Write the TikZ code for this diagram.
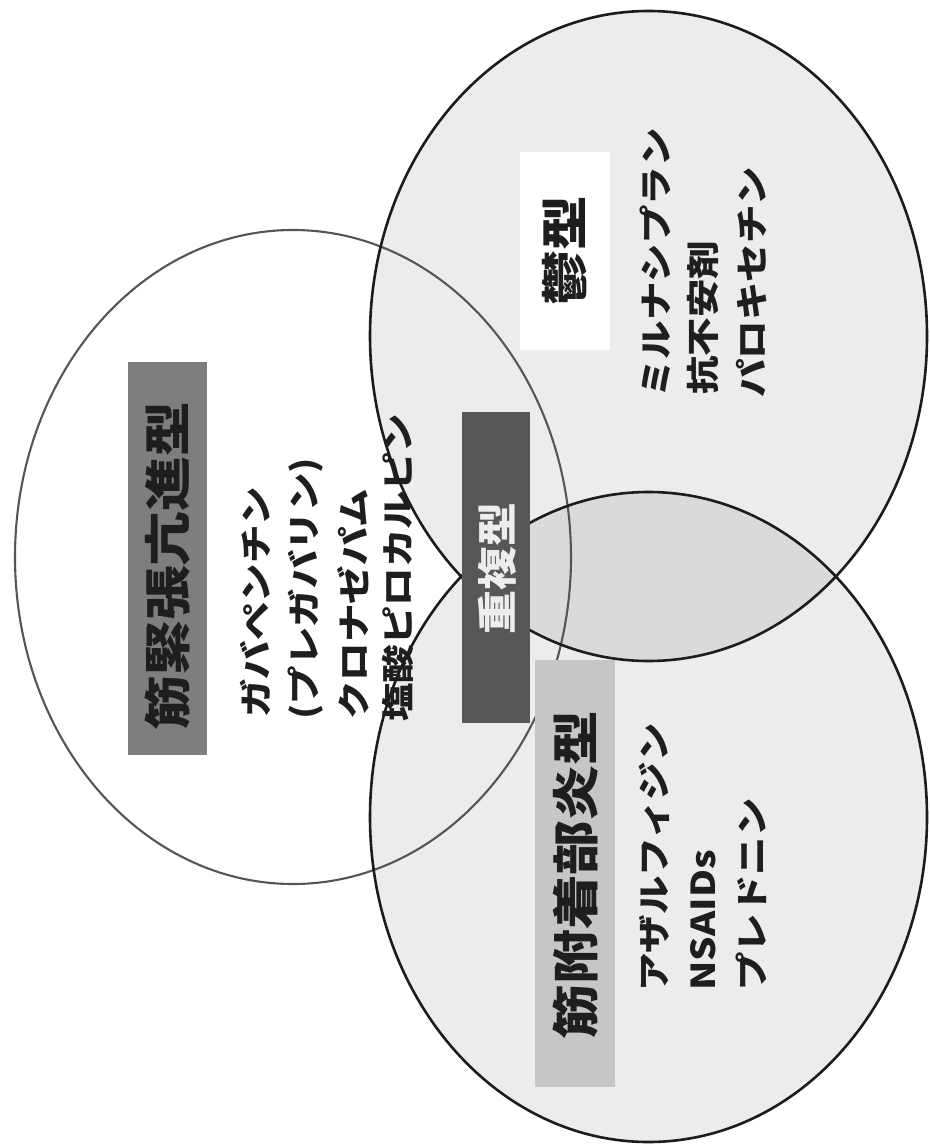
\documentclass[tikz,border=0pt]{standalone}
\usepackage{fontspec}
\setmainfont{Noto Sans CJK JP}
\definecolor{ringdark}{HTML}{1C1C1C}
\definecolor{ringgray}{HTML}{555555}
\definecolor{boxA}{HTML}{7E7E7E}
\definecolor{boxB}{HTML}{575757}
\definecolor{boxC}{HTML}{C6C6C6}
\definecolor{inkdark}{HTML}{1E1E1E}
\begin{document}
\begin{tikzpicture}[x=1pt,y=-1pt,
  ring/.style={line width=2.6pt, draw=ringdark},
  ringl/.style={line width=2.1pt, draw=ringgray},
  tint/.style={fill=black, fill opacity=0.075},
  lab/.style={font=\bfseries\fontsize{47}{50}\selectfont, text=inkdark, inner sep=0pt, yscale=1.166, rotate=90},
  labw/.style={font=\bfseries\fontsize{40}{44}\selectfont, text=white!93!black, inner sep=0pt, yscale=1.1, rotate=90},
  med/.style={font=\bfseries\fontsize{33}{36}\selectfont, text=inkdark, inner sep=0pt, anchor=west, yscale=1.166, rotate=90}]
\useasboundingbox (0,0) rectangle (929,1147);
\fill[white] (0,0) rectangle (929,1147);
% fills of the two shaded circles
\fill[tint] (648.5,336) ellipse [x radius=278.5, y radius=325];
\fill[tint] (648.5,817) ellipse [x radius=278.5, y radius=325];
% outlines
\draw[ringl] (293,557) ellipse [x radius=278, y radius=327];
\draw[ring] (648.5,336) ellipse [x radius=278.5, y radius=325];
\draw[ring] (648.5,817) ellipse [x radius=278.5, y radius=325];
% label boxes
\fill[boxA] (128,362) rectangle (207,755);
\fill[white] (520,152) rectangle (610,350);
\fill[boxB] (462,412) rectangle (530,723);
\fill[boxC] (535,660) rectangle (615,1087);
% labels
\node[lab] (kinkin) at (168,566) {筋緊張亢進型};
\node[lab] (utsu) at (565,251) {鬱型};
\node[lab] (fuchaku) at (576,875) {筋附着部炎型};
\node[labw] (choufuku) at (497,568) {重複型};
% medications: hypertonic type
\node[med] (m1) at (255,718) {ガバペンチン};
\node[med] (m2) at (306,720) {(プレガバリン)};
\node[med] (m3) at (353,720) {クロナゼパム};
\node[med] (m4) at (398,722) {塩酸ピロカルピン};
% depressive type
\node[med] (d1) at (655,398) {ミルナシプラン};
\node[med] (d2) at (703,395) {抗不安剤};
\node[med] (d3) at (752,398) {パロキセチン};
% enthesitis type
\node[med] (e1) at (654,992) {アザルフィジン};
\node[med] (e2) at (703,991) {NSAIDs};
\node[med] (e3) at (751,991) {プレドニン};
\end{tikzpicture}
\end{document}
